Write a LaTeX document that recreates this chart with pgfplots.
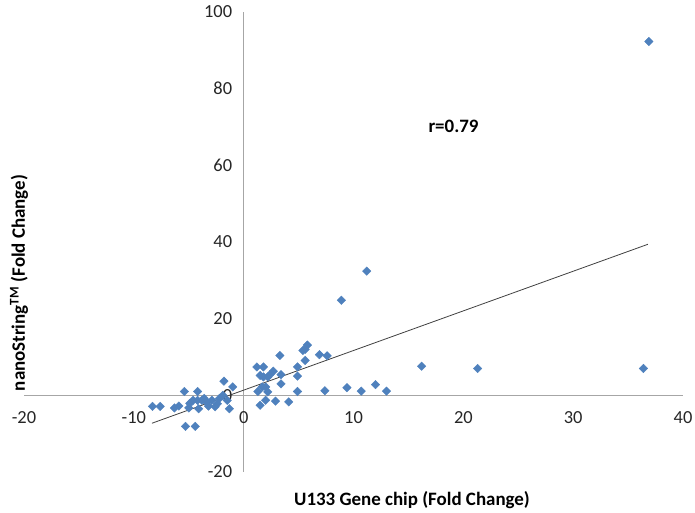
\documentclass[border=0pt]{standalone}
\usepackage{fontspec}
\setmainfont{Carlito}
\usepackage{pgfplots}
\pgfplotsset{compat=1.18}
\definecolor{mk}{HTML}{4F81BD}
\definecolor{axl}{HTML}{A6A6A6}
\begin{document}
\begin{tikzpicture}[x=1bp,y=1bp]
\useasboundingbox (0,0) rectangle (695,513);
\begin{axis}[
  at={(24bp,41bp)}, anchor=south west,
  scale only axis, width=659bp, height=460bp,
  xmin=-20, xmax=40, ymin=-20, ymax=100,
  axis lines=middle,
  axis line style={draw=axl, line width=1.2bp, -},
  xtick={-20,-10,...,40}, ytick={-20,0,...,100},
  hide obscured x ticks=false, hide obscured y ticks=false,
  major tick length=0pt,
  /pgf/number format/assume math mode=true,
  tick label style={font=\fontsize{18.5}{18.5}\selectfont, text=black!85},
  xticklabel style={yshift=-13bp},
  yticklabel style={xshift=-8bp},
  clip=false,
]
\addplot[only marks, mark=square*, mark size=3bp, mark options={rotate=45, fill=mk, draw=mk}] coordinates {
(-8.3,-2.9) (-7.6,-2.9) (-6.3,-3.3) (-5.9,-2.8) (-5.4,1.0) (-4.2,1.0) (-5.3,-8.1) (-4.4,-8.1)
(-5.0,-3.3) (-4.9,-2.1) (-4.6,-1.3) (-4.2,-1.3) (-3.8,-1.3) (-4.1,-3.5) (-3.4,-1.7) (-3.2,-2.8)
(-2.9,-1.3) (-2.6,-3.0) (-2.4,-2.2) (-1.8,3.7) (-1.0,2.2) (-1.5,-1.3) (-1.3,-3.5) (-1.9,0.0)
(-2.2,-0.8) (-3.6,-0.8)
(1.2,7.4) (1.8,7.4) (3.3,10.4) (5.6,12.0) (5.8,13.1) (5.4,11.7) (6.9,10.6) (7.6,10.3)
(5.6,9.1) (4.9,7.4) (4.9,5.0) (3.4,5.4) (3.4,3.0) (2.7,6.3) (2.4,5.4) (2.2,4.8) (1.8,4.8)
(1.5,5.2) (2.0,2.2) (1.7,2.2) (1.3,1.0) (2.2,0.9) (4.9,1.0) (7.4,1.2) (9.4,2.0) (10.7,1.1)
(12.0,2.8) (13.0,1.1) (2.0,-1.3) (1.5,-2.6) (2.9,-1.5) (4.1,-1.7) (8.9,24.8) (11.2,32.4)
(16.2,7.6) (21.3,7.0) (36.4,7.0) (36.9,92.3)
};
\addplot[black!75, line width=0.8bp, no marks] coordinates {(-8.35,-7.28) (36.8,39.4)};
\end{axis}
\node[font=\fontsize{19}{19}\selectfont\bfseries] at (453.5,387) {r=0.79};
\node[font=\fontsize{19}{19}\selectfont\bfseries] at (412,13) {U133 Gene chip (Fold Change)};
\node[font=\fontsize{19}{19}\selectfont\bfseries, rotate=90] at (19,230) {nanoString\textsuperscript{TM} (Fold Change)};
\end{tikzpicture}
\end{document}
